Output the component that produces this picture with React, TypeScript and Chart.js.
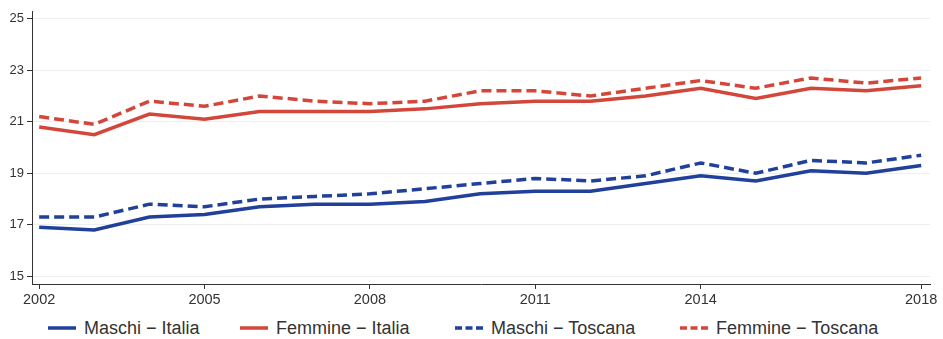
import React, { useEffect, useRef } from "react";
import { Chart, registerables } from "chart.js";

Chart.register(...registerables);

const years = [2002, 2003, 2004, 2005, 2006, 2007, 2008, 2009, 2010, 2011, 2012, 2013, 2014, 2015, 2016, 2017, 2018];
const maschiItalia = [16.9, 16.8, 17.3, 17.4, 17.7, 17.8, 17.8, 17.9, 18.2, 18.3, 18.3, 18.6, 18.9, 18.7, 19.1, 19.0, 19.3];
const femmineItalia = [20.8, 20.5, 21.3, 21.1, 21.4, 21.4, 21.4, 21.5, 21.7, 21.8, 21.8, 22.0, 22.3, 21.9, 22.3, 22.2, 22.4];
const maschiToscana = [17.3, 17.3, 17.8, 17.7, 18.0, 18.1, 18.2, 18.4, 18.6, 18.8, 18.7, 18.9, 19.4, 19.0, 19.5, 19.4, 19.7];
const femmineToscana = [21.2, 20.9, 21.8, 21.6, 22.0, 21.8, 21.7, 21.8, 22.2, 22.2, 22.0, 22.3, 22.6, 22.3, 22.7, 22.5, 22.7];
const xTicks = [2002, 2005, 2008, 2011, 2014, 2018];
const yTicks = [15, 17, 19, 21, 23, 25];
const seriesLabels = ["Maschi \u2212 Italia", "Femmine \u2212 Italia", "Maschi \u2212 Toscana", "Femmine \u2212 Toscana"];

const BLUE = "#20409a";
const RED = "#d3473b";
const DASH = [10, 5];

const seriesDefs = [
  { label: seriesLabels[0], values: maschiItalia, color: BLUE, dash: [] as number[] },
  { label: seriesLabels[1], values: femmineItalia, color: RED, dash: [] as number[] },
  { label: seriesLabels[2], values: maschiToscana, color: BLUE, dash: DASH },
  { label: seriesLabels[3], values: femmineToscana, color: RED, dash: DASH },
];
const legendLeft = [48, 240, 455, 680];

export default function App() {
  const ref = useRef<HTMLCanvasElement | null>(null);

  useEffect(() => {
    document.body.style.margin = "0";
    const canvas = ref.current;
    if (!canvas) return;
    const font = "'Liberation Sans', Arial, sans-serif";
    const chart = new Chart(canvas, {
      type: "line",
      data: {
        datasets: seriesDefs.map((s) => ({
          label: s.label,
          data: years.map((y, i) => ({ x: y, y: s.values[i] })),
          borderColor: s.color,
          backgroundColor: s.color,
          borderWidth: 3.5,
          borderDash: s.dash,
          pointRadius: 0,
          tension: 0,
          fill: false,
        })),
      },
      options: {
        responsive: false,
        animation: false,
        devicePixelRatio: 1,
        layout: { padding: { top: 11, right: 13, left: 0, bottom: 0 } },
        plugins: { legend: { display: false }, tooltip: { enabled: false } },
        scales: {
          x: {
            type: "linear",
            min: 2001.87,
            max: 2018.16,
            afterBuildTicks: (scale: any) => {
              scale.ticks = xTicks.map((v) => ({ value: v }));
            },
            afterFit: (scale: any) => {
              scale.height = 28;
            },
            ticks: {
              color: "#333",
              font: { family: font, size: 14.5 },
              padding: 2,
              maxRotation: 0,
              autoSkip: false,
              callback: (v: any) => String(v),
            },
            grid: { drawOnChartArea: false, tickColor: "#333", tickLength: 5 },
            border: { color: "#333", width: 1 },
          },
          y: {
            type: "linear",
            min: 14.7,
            max: 25.3,
            afterBuildTicks: (scale: any) => {
              scale.ticks = yTicks.map((v) => ({ value: v }));
            },
            afterFit: (scale: any) => {
              scale.width = 32;
            },
            ticks: {
              color: "#333",
              font: { family: font, size: 13 },
              padding: 3,
              callback: (v: any) => String(v),
            },
            grid: { color: "#eceff2", tickColor: "#333", tickLength: 5, lineWidth: 1 },
            border: { color: "#333", width: 1 },
          },
        },
      },
    });
    return () => chart.destroy();
  }, []);

  return (
    <div style={{ position: "relative", width: 943, height: 339, background: "#fff", fontFamily: "'Liberation Sans', Arial, sans-serif" }}>
      <canvas ref={ref} width={943} height={312} style={{ display: "block", width: 943, height: 312 }} />
      {seriesDefs.map((s, i) => (
        <div
          key={s.label}
          style={{
            position: "absolute",
            top: 318,
            left: legendLeft[i],
            height: 20,
            display: "flex",
            alignItems: "center",
            color: "#333",
            fontSize: 18,
            lineHeight: "20px",
            whiteSpace: "nowrap",
          }}
        >
          <svg width={28} height={10} style={{ marginRight: 8, display: "block" }}>
            <line
              x1={0}
              y1={5}
              x2={28}
              y2={5}
              stroke={s.color}
              strokeWidth={3.5}
              strokeDasharray={s.dash.length ? "7 3.5" : undefined}
            />
          </svg>
          <span>{s.label}</span>
        </div>
      ))}
    </div>
  );
}
